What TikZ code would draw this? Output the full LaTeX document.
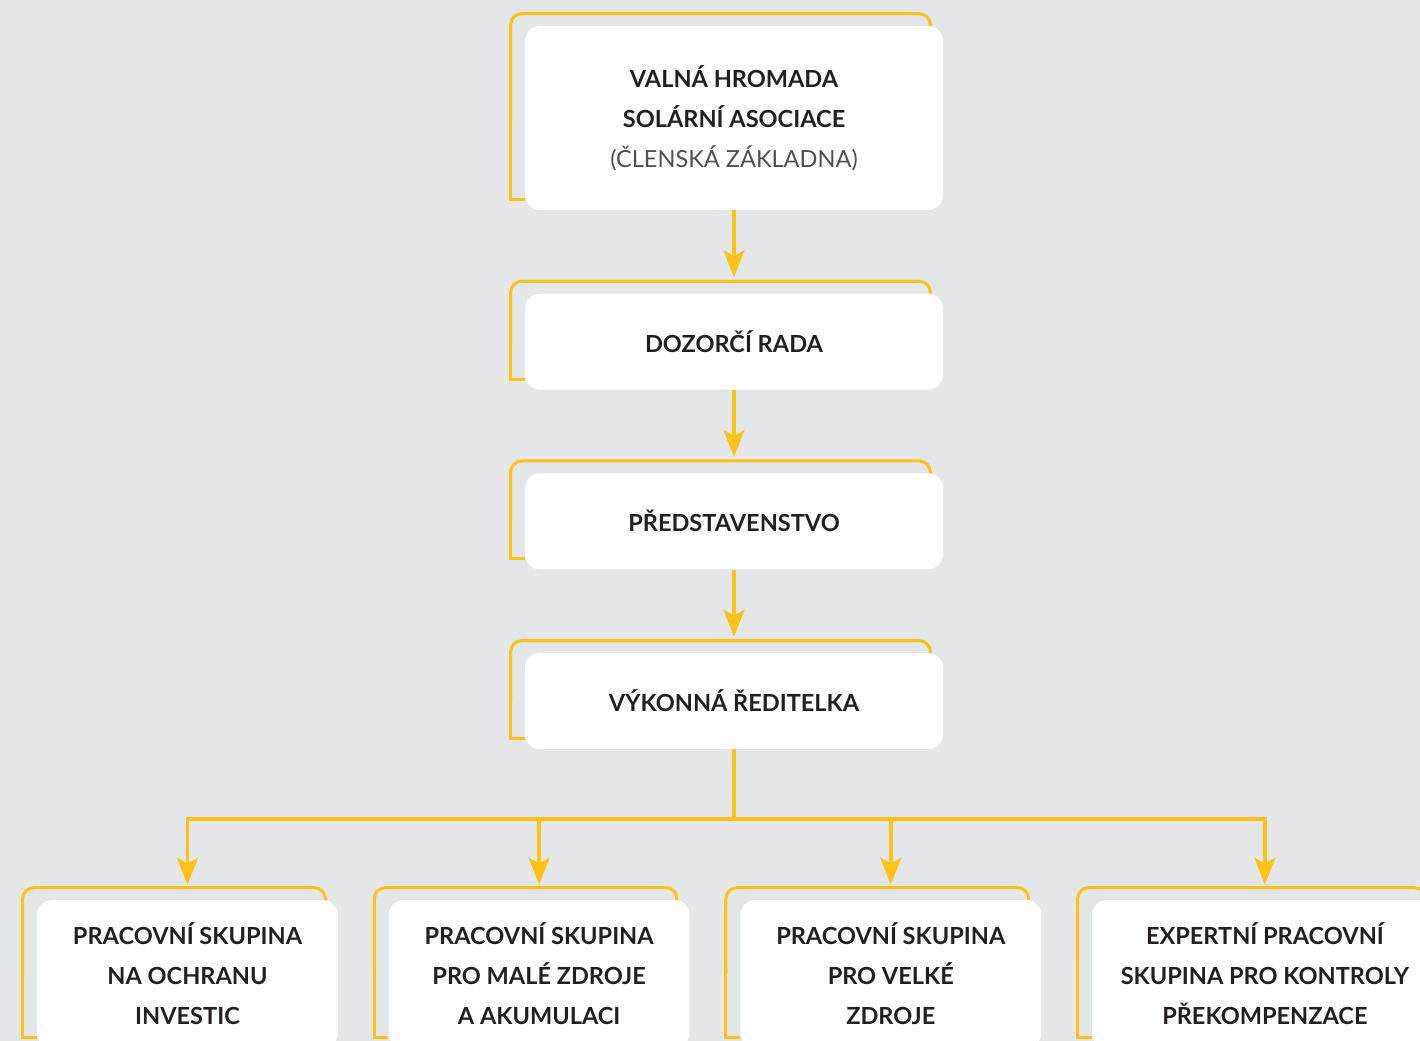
\documentclass[tikz,border=0pt]{standalone}
\usepackage{fontspec}
\setmainfont{Lato}
\usetikzlibrary{arrows.meta}
\usetikzlibrary{positioning}
\usetikzlibrary{backgrounds}
\definecolor{bg}{HTML}{E5E6E8}
\definecolor{sun}{HTML}{FDC318}
\definecolor{ink}{HTML}{231F20}
\definecolor{inkgray}{HTML}{505050}
\newcommand{\frameit}[1]{%
  \draw[frame] ([shift={(0,-11)}]#1.south west) -| ([shift={(-14,0)}]#1.north west);
  \draw[frame,rounded corners=0.22cm] ([shift={(-14,0)}]#1.west) |- ([shift={(-13,-12)}]#1.north east) -- ([shift={(-13,12)}]#1.north east);}

\begin{document}
\begin{tikzpicture}[x=0.02cm,y=-0.02cm,node distance=1.66cm]
\tikzset{box/.style={fill=white,rounded corners=0.3cm,minimum width=8.36cm,minimum height=1.92cm,inner sep=0pt,align=center,text=ink,font=\bfseries\fontsize{13.4}{22.8}\selectfont},
  group/.style={box,minimum width=6.02cm,minimum height=2.96cm},
  frame/.style={draw=sun,line width=0.06cm},
  link/.style={draw=sun,line width=0.075cm,-{Stealth[length=0.54cm,width=0.42cm,inset=0.12cm]},shorten >=0.32cm},
  bar/.style={draw=sun,line width=0.075cm}}
\useasboundingbox (0,0) rectangle (1420,1041);
\node[box,minimum height=3.68cm](valna) at (734,118){VALNÁ HROMADA\\SOLÁRNÍ ASOCIACE\\{\mdseries\color{inkgray}(ČLENSKÁ ZÁKLADNA)}};
\node[box](dozor)[below=of valna]{DOZORČÍ RADA};
\node[box](predst)[below=of dozor]{PŘEDSTAVENSTVO};
\node[box](reditel)[below=of predst]{VÝKONNÁ ŘEDITELKA};
\node[group](ochrana) at (187.5,974){PRACOVNÍ SKUPINA\\NA OCHRANU\\INVESTIC};
\node[group](male)[right=1cm of ochrana]{PRACOVNÍ SKUPINA\\PRO MALÉ ZDROJE\\A AKUMULACI};
\node[group](velke)[right=1cm of male]{PRACOVNÍ SKUPINA\\PRO VELKÉ\\ZDROJE};
\node[group,minimum width=6.92cm](expert)[right=1cm of velke]{EXPERTNÍ PRACOVNÍ\\SKUPINA PRO KONTROLY\\PŘEKOMPENZACE};
\draw[link](valna) -- (dozor);
\draw[link](dozor) -- (predst);
\draw[link](predst) -- (reditel);
\draw[bar](reditel.south) -- ++(0,70) coordinate (bus);
\draw[link,shorten >=0.3cm](bus) -| (ochrana.north);
\draw[link,shorten >=0.3cm](bus) -| (male.north);
\draw[link,shorten >=0.3cm](bus) -| (velke.north);
\draw[link,shorten >=0.3cm](bus) -| (expert.north);
\begin{pgfonlayer}{background}
\fill[bg] (0,0) rectangle (1420,1041);
\frameit{valna}
\frameit{dozor}
\frameit{predst}
\frameit{reditel}
\frameit{ochrana}
\frameit{male}
\frameit{velke}
\frameit{expert}
\end{pgfonlayer}
\end{tikzpicture}
\end{document}
